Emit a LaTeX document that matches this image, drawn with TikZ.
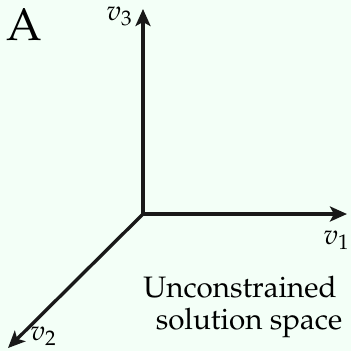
\documentclass[tikz,border=0pt]{standalone}
\usepackage[T1]{fontenc}
\usepackage{mathpazo}
\usetikzlibrary{arrows.meta}

\definecolor{bgmint}{HTML}{F3FFF7}

\begin{document}
\begin{tikzpicture}[x=0.01cm,y=-0.01cm,>={Stealth[length=1.7mm,width=1.5mm,inset=0.4mm]}]

% Parameters
\def\ox{143}
\def\oy{214}

% Background
\fill[bgmint] (0,0) rectangle (351,351);
\useasboundingbox (0,0) rectangle (351,351);

\tikzset{axis/.style={->,line width=0.95pt,black!90}}

% Axes
\coordinate (O) at (\ox,\oy);
\coordinate (e1) at (347,\oy);
\coordinate (e2) at (8,348);
\coordinate (e3) at (\ox,9);
\draw[axis] (O) -- (e1);
\draw[axis] (O) -- (e2);
\draw[axis] (O) -- (e3);

% Labels
\node (A) at (24,25) {\fontsize{13}{15}\selectfont A};
\node (l3) at (120,16) {\fontsize{8}{10}\selectfont $v_3$};
\node (l1) at (337,240) {\fontsize{8}{10}\selectfont $v_1$};
\node (l2) at (44,336) {\fontsize{8}{10}\selectfont $v_2$};

% Region text
\node[anchor=base] (t1) at (240,297) {\fontsize{8.4}{10}\selectfont Unconstrained};
\node[anchor=base] (t2) at (249,329) {\fontsize{8.4}{10}\selectfont solution space};

\end{tikzpicture}
\end{document}
